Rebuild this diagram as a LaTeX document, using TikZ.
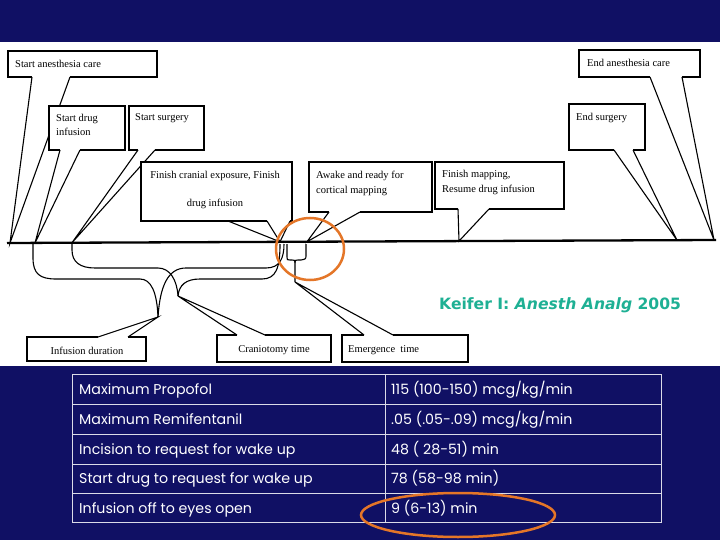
\documentclass[tikz,border=0pt]{standalone}
\usepackage{fontspec}
\setmainfont{Liberation Serif}
\newfontfamily\tabfont{Poppins}
\newfontfamily\citefont{DejaVu Sans}
\definecolor{slidenavy}{RGB}{16,16,100}
\definecolor{citeteal}{RGB}{30,176,148}
\definecolor{ringorange}{RGB}{228,118,40}
\tikzset{
  cl/.style={line width=1.1pt, line join=miter},
  brace/.style={line width=1.1pt},
  lbl/.style={font=\fontsize{10.5}{12}\selectfont, inner sep=0pt, anchor=base west},
  clbl/.style={font=\fontsize{10.5}{12}\selectfont, inner sep=0pt, anchor=base},
  tabtxt/.style={font=\tabfont\fontsize{14.2}{16}\selectfont, text=white, inner sep=0pt, anchor=base west},
  ring/.style={draw=ringorange, line width=2.5pt}
}
% top callout: x1,y1,x2,y2,pointer-a,pointer-b,tip
\newcommand\topcallout[7]{%
  \fill[white] (#1,#2) rectangle (#3,#4);
  \draw[cl] (#5,#4) -- (#1,#4) -- (#1,#2) -- (#3,#2) -- (#3,#4) -- (#6,#4);
  \draw[cl] (#5,#4) -- (#7) -- (#6,#4);}
% bottom callout: pointer on top edge
\newcommand\botcallout[7]{%
  \fill[white] (#1,#2) rectangle (#3,#4);
  \draw[cl] (#5,#2) -- (#1,#2) -- (#1,#4) -- (#3,#4) -- (#3,#2) -- (#6,#2);
  \draw[cl] (#5,#2) -- (#7) -- (#6,#2);}
\begin{document}
\begin{tikzpicture}[x=1pt,y=-1pt]
\useasboundingbox (0,0) rectangle (720,540);
\fill[slidenavy] (0,0) rectangle (720,540);
\fill[white] (0,42) rectangle (720,366);

% tips on the timeline
\coordinate (tSA) at (10,243);
\coordinate (tSD) at (35,243);
\coordinate (tSS) at (72,242.7);
\coordinate (tFC) at (280,241.8);
\coordinate (tAW) at (307,241.7);
\coordinate (tFM) at (459,241.1);
\coordinate (tES) at (677,240.2);
\coordinate (tEA) at (714,240);
% brace tips
\coordinate (bInf) at (158,317);
\coordinate (bCra) at (178,296);
\coordinate (bEme) at (295,282);

% top callouts
\topcallout{8}{51}{157}{77}{32}{70}{tSA}
\node[lbl] (nSA) at (15,68) {Start anesthesia care};
\topcallout{49}{106}{125}{150}{60}{80}{tSD}
\node[lbl] (nSD) at (56,122) {Start drug};
\node[lbl] (nSD2) at (56,136) {infusion};
\topcallout{129}{106}{204}{150}{138}{155}{tSS}
\node[lbl] (nSS) at (135,121) {Start surgery};

% finish cranial exposure box
\fill[white] (141,162) rectangle (292,221);
\draw[cl] (267,221) -- (141,221) -- (141,162) -- (292,162) -- (292,221) -- (290,221);
\draw[cl] (267,221) -- (tFC) -- (290,221);
\draw[cl] (228,221) -- (tFC);
\node[clbl] (nFC) at (215,179) {Finish cranial exposure, Finish};
\node[clbl] (nFC2) at (215,207) {drug infusion};

\topcallout{309}{162}{432}{212}{329}{360}{tAW}
\node[lbl] (nAW) at (316,179) {Awake and ready for};
\node[lbl] (nAW2) at (316,194) {cortical mapping};
\topcallout{435}{162}{564}{209}{458}{489}{tFM}
\node[lbl] (nFM) at (442,178) {Finish mapping,};
\node[lbl] (nFM2) at (442,193) {Resume drug infusion};
\topcallout{579}{50}{700}{77}{650}{682}{tEA}
\node[lbl] (nEA) at (587,67) {End anesthesia care};
\topcallout{569}{104}{645}{150}{614}{633}{tES}
\node[lbl] (nES) at (576,121) {End surgery};

% timeline
\draw[line width=2.3pt] (7,243) -- (716,240);

% braces
\draw[brace] (33,243) -- (33,258) .. controls (33,274) and (40,279) .. (56,279) -- (140,279) .. controls (151,279) and (157,292) .. (bInf);
\draw[brace] (bInf) .. controls (160,286) and (168,268) .. (186,268) -- (266,268) .. controls (280,268) and (284,258) .. (284,244);
\draw[brace] (72,243) -- (72,250) .. controls (72,262) and (80,268) .. (95,268) -- (158,268) .. controls (170,268) and (177,280) .. (bCra);
\draw[brace] (bCra) .. controls (179,285) and (186,279) .. (200,279) -- (262,279) .. controls (276,279) and (280,268) .. (280,244);
\draw[brace] (287,244) -- (287,257) .. controls (287,260) .. (290,260) -- (292,260) .. controls (295,260) .. (295,263) -- (bEme);
\draw[brace] (306,244) -- (306,255) .. controls (306,259) .. (301,260) -- (298,260) .. controls (295,260) .. (295,263);

% bottom callouts
\botcallout{27}{337}{146}{361}{98}{128}{bInf}
\node[clbl] (nID) at (87,354) {Infusion duration};
\botcallout{217}{335}{331}{362}{237}{265}{bCra}
\node[clbl] (nCT) at (274,352) {Craniotomy time};
\botcallout{342}{335}{468}{362}{364}{393}{bEme}
\node[lbl] (nET) at (348,352) {Emergence\ \ time};

% citation
\node[inner sep=0pt, anchor=base west, text=citeteal, font=\citefont\bfseries\fontsize{15.6}{18}\selectfont] (cite) at (439,309) {Keifer I: \itshape Anesth Analg\upshape{} 2005};

% orange ring on diagram
\draw[ring] (310,249) ellipse [x radius=34, y radius=31];

% table
\draw[white!85!slidenavy, line width=0.9pt] (72,374) rectangle (661,522);
\foreach \yy in {404,434,464,493} \draw[white!85!slidenavy, line width=0.9pt] (72,\yy) -- (661,\yy);
\draw[white!85!slidenavy, line width=0.9pt] (385,374) -- (385,522);
\node[tabtxt] (r1a) at (79,394) {Maximum Propofol};
\node[tabtxt] (r1b) at (391,394) {115 (100-150) mcg/kg/min};
\node[tabtxt] (r2a) at (79,424) {Maximum Remifentanil};
\node[tabtxt] (r2b) at (391,424) {.05 (.05-.09) mcg/kg/min};
\node[tabtxt] (r3a) at (79,454) {Incision to request for wake up};
\node[tabtxt] (r3b) at (391,454) {48 ( 28-51) min};
\node[tabtxt] (r4a) at (79,483) {Start drug to request for wake up};
\node[tabtxt] (r4b) at (391,483) {78 (58-98 min)};
\node[tabtxt] (r5a) at (79,513) {Infusion off to eyes open};
\node[tabtxt] (r5b) at (391,513) {9 (6-13) min};
\draw[ring] (458,515) ellipse [x radius=97, y radius=22];
\end{tikzpicture}
\end{document}
